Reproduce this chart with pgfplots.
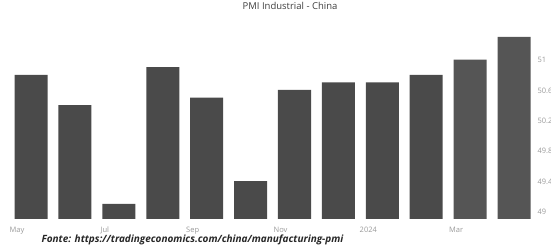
\documentclass[border=0pt]{standalone}
\usepackage{pgfplots}
\pgfplotsset{compat=1.18}
\usepackage{fontspec}
\setmainfont{Open Sans}
\definecolor{barA}{HTML}{4A4A4A}
\definecolor{barB}{HTML}{555555}
\definecolor{tickgray}{HTML}{9A9A9A}
\begin{document}
\begin{tikzpicture}
\path[use as bounding box] (0,0) rectangle (551pt,248pt);
\clip (0,0) rectangle (551pt,248pt);
\node[font=\fontsize{9.5}{11}\selectfont, text=black!75, inner sep=0pt] at (290pt,242pt) {PMI Industrial - China};
\begin{axis}[
  at={(0.3pt,29pt)}, anchor=south west,
  scale only axis, width=535.7pt, height=189.75pt,
  xmin=-0.7, xmax=11.5, ymin=49, ymax=51.5,
  ybar, bar width=33pt, bar shift=0pt,
  axis line style={draw=none}, tick style={draw=none},
  ytick pos=right, yticklabel pos=right,
  ytick={49,49.4,49.8,50.2,50.6,51},
  yticklabels={49,49.4,49.8,50.2,50.6,51},
  yticklabel style={anchor=west, xshift=-2pt, yshift=7pt, font=\fontsize{7.5}{9}\selectfont, text=tickgray},
  xtick={0,2,4,6,8,10},
  xticklabels={May,Jul,Sep,Nov,2024,Mar},
  xticklabel style={xshift=-14pt, font=\fontsize{7.5}{9}\selectfont, text=tickgray},
  /pgf/number format/assume math mode=true,
]
\addplot[fill=barA, draw=none] coordinates {
 (0,50.9) (1,50.5) (2,49.2) (3,51.0) (4,50.6) (5,49.5)
 (6,50.7) (7,50.8) (8,50.8) (9,50.9)};
\addplot[fill=barB, draw=none] coordinates {(10,51.1) (11,51.4)};
\end{axis}
\node[anchor=west, font=\fontsize{10}{12}\selectfont\bfseries\itshape, text=black!85] at (38pt,8pt) {Fonte: https://tradingeconomics.com/china/manufacturing-pmi};
\end{tikzpicture}
\end{document}
